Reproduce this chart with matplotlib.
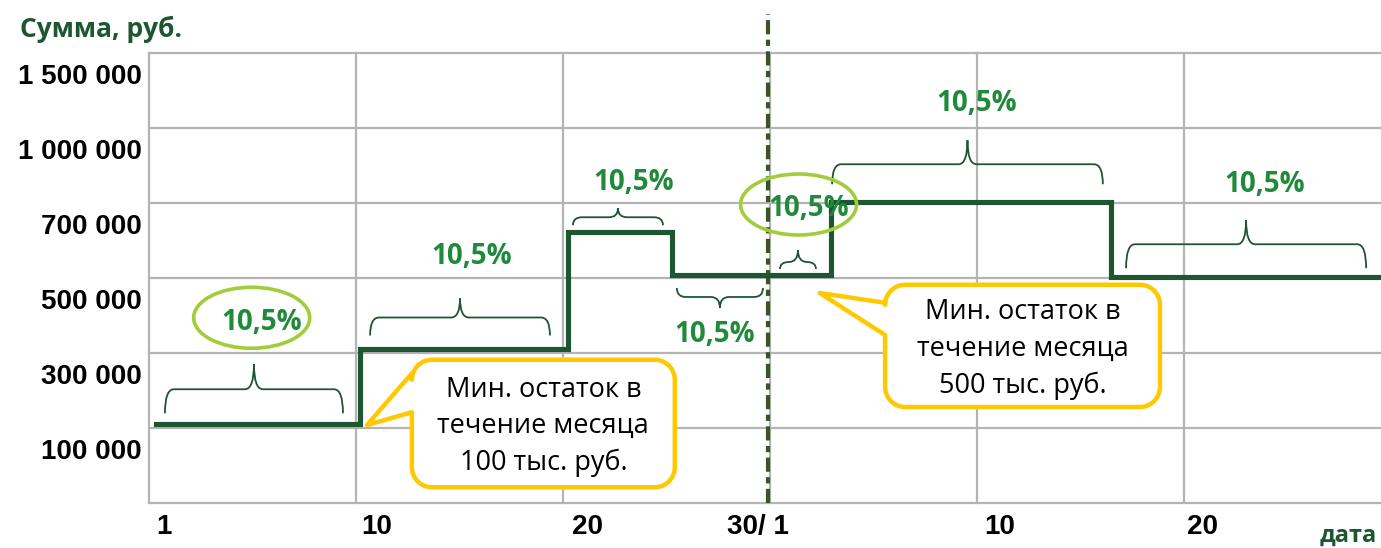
import numpy as np
import matplotlib
matplotlib.use('Agg')
import matplotlib.pyplot as plt
from matplotlib.path import Path
from matplotlib.patches import PathPatch, Polygon, Ellipse

plt.rcParams['font.family'] = ['Open Sans', 'DejaVu Sans']

# ---- data (schematic units: one horizontal grid band = 1, one grid column = 10 days)
step_x = [0.33, 10.19, 20.24, 25.27, 32.95, 46.47, 59.6]
step_level = [1.05, 2.06, 3.61, 3.04, 4.01, 3.01]
month_end = 29.9

y_tick_pos = [0.72, 1.72, 2.72, 3.72, 4.72, 5.72]
y_tick_labels = ['100 000', '300 000', '500 000', '700 000', '1 000 000', '1 500 000']
x_tick_pos = [0.7, 11.0, 21.2, 29.4, 41.1, 50.9]
x_tick_labels = ['1', '10', '20', '30/ 1', '10', '20']

# interest periods marked with braces: start, end, level, side (+1 above / -1 below)
period_start = [0.77, 10.68, 20.48, 25.5, 30.48, 33.0, 47.2]
period_end = [9.37, 19.37, 24.83, 29.66, 32.22, 46.08, 58.8]
period_level = [1.05, 2.06, 3.61, 3.04, 3.04, 4.01, 3.01]
period_side = [1, 1, 1, -1, 1, 1, 1]
rate_label = '10,5%'
rate_pos = [(5.46, 2.41), (15.6, 3.29), (23.43, 4.27), (27.34, 2.24),
            (31.88, 3.92), (40.0, 5.33), (53.9, 4.24)]
circled = [0, 4]

note_texts = ['Мин. остаток в\nтечение месяца\n100 тыс. руб.',
              'Мин. остаток в\nтечение месяца\n500 тыс. руб.']

# ---- styles
PX_X, PX_Y = 20.7, 75.0
LINE = '#1e5631'
TXT_GREEN = '#1f8a3a'
ELL = '#a2cd3a'
GOLD = '#ffc800'
GRID = '#b4b4b4'

# brace sizes in pixels: gap to line, rise to bar, rise to tip
brace_px = [(11, 24, 25), (13, 18, 19), (7, 8, 9), (13, 9, 11),
            (6, 7, 12), (18, 20, 24), (9, 24, 24)]

fig = plt.figure(figsize=(13.81, 5.48), dpi=100)
ax = fig.add_axes([149 / 1381, 45 / 548, 1232 / 1381, 450 / 548])
ax.set_xlim(0, 1232 / PX_X)
ax.set_ylim(0, 6)
for s in ax.spines.values():
    s.set_visible(False)

for gy in range(7):
    ax.axhline(gy, color=GRID, lw=1.6, zorder=1, clip_on=False)
for gx in range(0, 60, 10):
    ax.axvline(gx, color=GRID, lw=1.6, zorder=1, clip_on=False)

ax.set_yticks(y_tick_pos)
ax.set_yticklabels(y_tick_labels, family='Liberation Sans', fontweight='bold', fontsize=20)
ax.set_xticks(x_tick_pos)
ax.set_xticklabels(x_tick_labels, family='Liberation Sans', fontweight='bold', fontsize=20)
ax.tick_params(axis='y', length=0, pad=5)
ax.tick_params(axis='x', length=0, pad=8)

# balance line
ax.plot(step_x, step_level + [step_level[-1]], drawstyle='steps-post',
        color=LINE, lw=3.7, zorder=4, solid_joinstyle='miter', clip_on=False)

# end of month
ax.plot([month_end, month_end], [0, 6.52], color='#375623', lw=3,
        linestyle=(0, (3.4, 1.3, 1.5, 1.3)), dash_capstyle='butt',
        zorder=3, clip_on=False)


def brace(x0, x1, level, side, gap, bar, tip):
    yb = level + side * gap / PX_Y
    yh = yb + side * bar / PX_Y
    yt = yh + side * tip / PX_Y
    xc = (x0 + x1) / 2
    w = 9 / PX_X
    verts = [(x0, yb), (x0, yh), (x0 + w, yh),
             (xc - w, yh),
             (xc, yh), (xc, yt),
             (xc, yh), (xc + w, yh),
             (x1 - w, yh),
             (x1, yh), (x1, yb)]
    codes = [Path.MOVETO, Path.CURVE3, Path.CURVE3,
             Path.LINETO,
             Path.CURVE3, Path.CURVE3,
             Path.CURVE3, Path.CURVE3,
             Path.LINETO,
             Path.CURVE3, Path.CURVE3]
    ax.add_patch(PathPatch(Path(verts, codes), fill=False, ec=LINE, lw=1.3, zorder=4))


for i in range(len(period_start)):
    brace(period_start[i], period_end[i], period_level[i], period_side[i], *brace_px[i])
    tx, ty = rate_pos[i]
    ax.text(tx, ty, rate_label, color=TXT_GREEN, fontsize=20, fontweight='bold',
            ha='center', va='center', zorder=6)
    if i in circled:
        ax.add_patch(Ellipse((tx - 0.5, ty + 0.06), 116 / PX_X, 61 / PX_Y, fill=False,
                             ec=ELL, lw=2.6, zorder=5))


def callout(x0, x1, y0, y1, tip, base, text, r=20):
    rx, ry = r / PX_X, r / PX_Y
    pts = [(x0, base[1])]
    for cx, cy, a0, a1 in [(x0 + rx, y1 - ry, 180, 90), (x1 - rx, y1 - ry, 90, 0),
                           (x1 - rx, y0 + ry, 0, -90), (x0 + rx, y0 + ry, -90, -180)]:
        t = np.radians(np.linspace(a0, a1, 12))
        pts += list(zip(cx + rx * np.cos(t), cy + ry * np.sin(t)))
    pts += [(x0, base[0]), tip]
    ax.add_patch(Polygon(pts, closed=True, fc='white', ec=GOLD, lw=3.2,
                         joinstyle='round', zorder=5))
    ax.text((x0 + x1) / 2, (y0 + y1) / 2 - 0.04, text, ha='center', va='center',
            fontsize=19.5, linespacing=1.4, zorder=6)


callout(12.7, 25.4, 0.21, 1.91, (10.53, 1.04), (1.21, 1.73), note_texts[0])
callout(35.56, 48.84, 1.28, 2.91, (32.4, 2.8), (2.24, 2.67), note_texts[1])

fig.text(20 / 1381, 1 - 29 / 548, 'Сумма, руб.', color=LINE, fontsize=19,
         fontweight='bold', ha='left', va='center')
fig.text(1377 / 1381, 1 - 536 / 548, 'дата', color=LINE, fontsize=17,
         fontweight='bold', ha='right', va='center')

fig.savefig('out.png', dpi=100)
